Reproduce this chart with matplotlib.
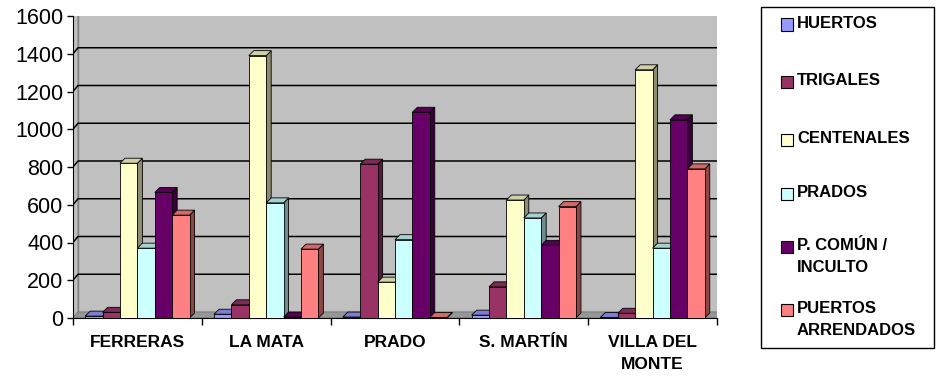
import matplotlib

matplotlib.use("Agg")
import matplotlib.pyplot as plt
import numpy as np
from matplotlib.colors import to_rgb
from matplotlib.patches import Polygon, Rectangle
from matplotlib.transforms import IdentityTransform

categories = ["FERRERAS", "LA MATA", "PRADO", "S. MARTÍN", "VILLA DEL\nMONTE"]
series_names = ["HUERTOS", "TRIGALES", "CENTENALES", "PRADOS",
                "P. COMÚN /\nINCULTO", "PUERTOS\nARRENDADOS"]
huertos = [10, 20, 5, 15, 3]
trigales = [30, 70, 815, 165, 25]
centenales = [820, 1390, 190, 625, 1315]
prados = [370, 610, 415, 530, 370]
comun = [665, 5, 1090, 385, 1050]
puertos = [545, 365, 3, 590, 790]
yticks = [0, 200, 400, 600, 800, 1000, 1200, 1400, 1600]

series = [huertos, trigales, centenales, prados, comun, puertos]
colors = ["#9999FF", "#993366", "#FFFFCC", "#CCFFFF", "#660066", "#FF8080"]

DPI = 100
W, H = 936, 377
plt.rcParams["font.family"] = ["Liberation Sans", "DejaVu Sans"]

fig = plt.figure(figsize=(W / DPI, H / DPI), dpi=DPI, facecolor="white")
ax = fig.add_axes([73 / W, (H - 318) / H, (717 - 73) / W, (318 - 16) / H])
ax.set_xlim(-0.5, len(categories) - 0.5)
ax.set_ylim(0, 1600)
ax.patch.set_visible(False)
for s in ["top", "right"]:
    ax.spines[s].set_visible(False)
ax.spines["left"].set_color("black")
ax.spines["bottom"].set_color("black")

# depth offsets in pixels
WX, WY = 5, 6   # back wall
BX, BY = 5, 5   # bar depth


def to_px(x, y):
    return ax.transData.transform((x, y))


def poly(pts, fc, ec="black", lw=0.6, z=1):
    p = Polygon(pts, closed=True, facecolor=fc, edgecolor=ec, linewidth=lw,
                transform=IdentityTransform(), zorder=z)
    ax.add_artist(p)


x0, x1 = ax.get_xlim()
fl, fr = to_px(x0, 0), to_px(x1, 0)
tl, tr = to_px(x0, 1600), to_px(x1, 1600)

# back wall, side wall, floor
poly([fl + (WX, WY), fr + (WX, WY), tr + (WX, WY), tl + (WX, WY)], "#C0C0C0", "#808080", 1.0, 0)
poly([fl, fl + (WX, WY), tl + (WX, WY), tl], "#C0C0C0", "#808080", 0.8, 0)
poly([fl, fr, fr + (WX, WY), fl + (WX, WY)], "#969696", "#808080", 0.8, 0)

for v in yticks[1:]:
    a, b = to_px(x0, v), to_px(x1, v)
    ax.add_artist(plt.Line2D([a[0], a[0] + WX, b[0] + WX], [a[1], a[1] + WY, b[1] + WY],
                             color="black", linewidth=1.1, transform=IdentityTransform(),
                             zorder=0.5))


def shade(c, f):
    return tuple(np.clip(np.array(to_rgb(c)) * f, 0, 1))


n = len(series)
bw = 0.135
start = -bw * n / 2
xs = np.arange(len(categories))
for k, (vals, col) in enumerate(zip(series, colors)):
    z = 2 + k
    bars = ax.bar(xs + start + bw * (k + 0.5), vals, width=bw, color=col,
                  edgecolor="black", linewidth=0.6, zorder=z + 0.5)
    for r in bars:
        bx, by, bwid, bh = r.get_x(), r.get_y(), r.get_width(), r.get_height()
        p10 = to_px(bx + bwid, by)
        p01 = to_px(bx, by + bh)
        p11 = to_px(bx + bwid, by + bh)
        poly([p10, p10 + (BX, BY), p11 + (BX, BY), p11], shade(col, 0.55), z=z)
        poly([p01, p11, p11 + (BX, BY), p01 + (BX, BY)], shade(col, 0.82), z=z)

ax.set_yticks(yticks)
ax.set_yticklabels([str(v) for v in yticks], fontsize=15.5)
ax.tick_params(axis="y", direction="out", length=4, width=1, pad=3)
ax.set_xticks(np.arange(len(categories) + 1) - 0.5)
ax.set_xticklabels([])
ax.tick_params(axis="x", which="major", direction="out", length=5, width=1)
ax.set_xticks(xs, minor=True)
ax.set_xticklabels(categories, minor=True, fontsize=12.5, fontweight="bold",
                   linespacing=1.6)
ax.tick_params(axis="x", which="minor", length=0, pad=12)

# legend box
lx0, lx1, ly0, ly1 = 761, 934, 7, 348
fig.add_artist(Rectangle((lx0 / W, 1 - ly1 / H), (lx1 - lx0) / W, (ly1 - ly0) / H,
                         transform=fig.transFigure, facecolor="white",
                         edgecolor="black", linewidth=1.0))
entry_y = [24.5, 82, 140, 194, 247, 310]
for name, col, yy in zip(series_names, colors, entry_y):
    fig.add_artist(Rectangle((781 / W, 1 - (yy + 6) / H), 12 / W, 12 / H,
                             transform=fig.transFigure, facecolor=col,
                             edgecolor="black", linewidth=0.8))
    fig.text(797 / W, 1 - (yy - 9) / H, name, fontsize=12, fontweight="bold",
             va="top", ha="left", linespacing=1.55)

fig.savefig("out.png", dpi=DPI, facecolor="white")
